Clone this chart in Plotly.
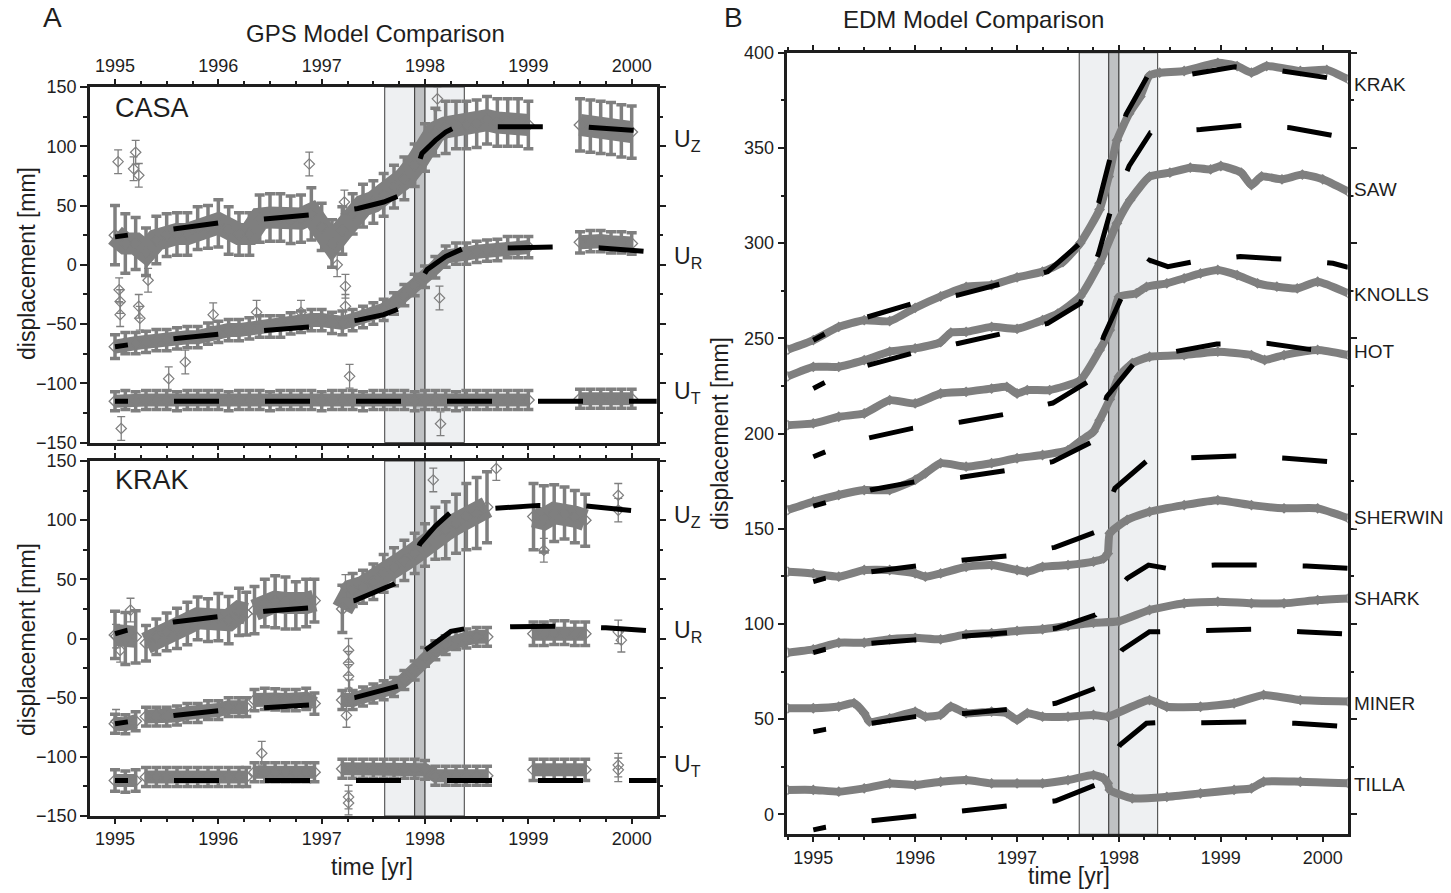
import plotly.graph_objects as go

# ---------------- data ----------------
YEARS = [1995, 1996, 1997, 1998, 1999, 2000]
BAND_EDGES = [1997.61, 1997.90, 1998.00, 1998.38]

# GPS  CASA
CASA_T = [1995.0, 1995.1, 1995.2, 1995.3, 1995.4, 1995.5, 1995.6, 1995.7, 1995.8, 1995.9,
          1996.0, 1996.1, 1996.2, 1996.3, 1996.4, 1996.5, 1996.6, 1996.7, 1996.8, 1996.9,
          1997.0, 1997.1, 1997.2, 1997.3, 1997.4, 1997.5, 1997.6, 1997.7, 1997.8, 1997.9,
          1998.0, 1998.1, 1998.2, 1998.3, 1998.4, 1998.5, 1998.6, 1998.7, 1998.8, 1998.9, 1999.0,
          None, 1999.5, 1999.6, 1999.7, 1999.8, 1999.9, 2000.0]
CASA_UZ = [25, 18, 18, 11, 21, 25, 26, 26, 31, 32,
           35, 29, 26, 26, 39, 40, 40, 38, 39, 43,
           32, 18, 29, 43, 50, 53, 59, 66, 73, 84,
           99, 112, 116, 118, 118, 119, 122, 120, 120, 120, 118,
           None, 118, 117, 116, 115, 113, 112]
CASA_UZ_E = [25, 25, 22, 20, 20, 18, 18, 18, 18, 18,
             20, 20, 18, 18, 20, 20, 20, 20, 20, 22,
             20, 20, 20, 17, 18, 18, 18, 18, 18, 18,
             20, 20, 22, 20, 20, 20, 20, 20, 20, 20, 20,
             None, 22, 22, 22, 22, 22, 22]
CASA_UR = [-69, -66, -66, -65, -63.5, -63.5, -62, -61, -61, -58,
           -56.5, -55, -55, -53.6, -52, -52, -52, -49.4, -48, -46.6,
           -46.6, -49, -49, -46.6, -44, -41, -38, -32.6, -25.6, -17,
           -10, -2, 7, 9.5, 9.5, 11, 12, 12.5, 15, 15, 15,
           None, 19, 20, 20, 19, 19, 18]
CASA_UR_E = [10, 9, 9, 9, 9, 9, 9, 9, 9, 9,
             9, 9, 9, 9, 9, 9, 9, 9, 9, 9,
             9, 9, 10, 9, 9, 9, 9, 9, 9, 9,
             9, 9, 9, 9, 9, 9, 9, 9, 9, 9, 9,
             None, 9, 9, 9, 9, 9, 9]
CASA_UT = [-115, -114, -115, -114, -114, -114, -115, -114, -114, -114,
           -114, -115, -114, -114, -114, -115, -114, -114, -114, -114,
           -115, -114, -114, -114, -115, -114, -114, -114, -114, -115,
           -114, -114, -114, -115, -114, -114, -114, -114, -114, -114, -114,
           None, -113, -113, -113, -113, -113, -113]
CASA_UT_E = [8] * 41 + [None] + [8] * 6

CASA_OUT_T = [1995.03, 1995.2, 1995.18, 1995.23, 1996.88, 1997.22, 1997.15, 1995.04, 1995.05,
              1995.05, 1995.23, 1995.24, 1995.32, 1997.23, 1997.23, 1995.95, 1996.37, 1996.8,
              1995.68, 1995.06, 1995.52, 1997.27, 1998.15, 1998.12, 1998.14]
CASA_OUT_Y = [87, 95, 81, 75.5, 85, 53, 0, -21, -31,
              -42, -35, -45, -13, -18, -35, -42, -40, -40,
              -82, -138, -96, -94, -134, 140, -28]

# GPS  KRAK
KRAK_T = [1995.0, 1995.1, 1995.2, None,
          1995.3, 1995.4, 1995.5, 1995.6, 1995.7, 1995.8, 1995.9, 1996.0, 1996.1, 1996.2, 1996.27, None,
          1996.35, 1996.45, 1996.55, 1996.65, 1996.75, 1996.85, 1996.93, None,
          1997.2, 1997.3, 1997.4, 1997.5, 1997.6, 1997.7, 1997.8, 1997.9,
          1998.0, 1998.1, 1998.2, 1998.3, 1998.4, 1998.5, 1998.6, None,
          1999.05, 1999.15, 1999.25, 1999.35, 1999.45, 1999.55]
KRAK_UZ = [3, 0, 1.4, None,
           -4, 1.4, 5.6, 8.5, 12.7, 17, 15.5, 18, 15.5, 22.5, 21, None,
           24, 30, 31, 30, 28, 30, 32, None,
           25, 41, 43.7, 48, 55, 60.6, 66, 72,
           79, 89, 91.5, 97, 103, 106, 111, None,
           103, 101, 106, 106, 103, 100]
KRAK_UZ_E = [20, 22, 22, None,
             15, 15, 16, 17, 18, 18, 18, 20, 20, 20, 18, None,
             20, 20, 22, 22, 20, 20, 18, None,
             20, 14, 14, 15, 16, 16, 17, 17,
             18, 22, 24, 25, 28, 30, 30, None,
             28, 28, 24, 22, 22, 22]
KRAK_UR = [-72, -72.5, -70, None,
           -66, -66, -66, -65, -63, -63, -60.5, -60.5, -58, -58, -58, None,
           -52, -51, -51.5, -52, -52, -51, -55, None,
           -52, -52, -49, -46.5, -43.7, -41, -35, -27,
           -15.5, -10, -5.6, -1.4, 0, 1.4, 1.4, None,
           4, 4, 5, 5, 4, 4]
KRAK_UR_E = [8, 8, 8, None] + [8] * 11 + [None] + [9] * 7 + [None] + [8] * 15 + [None] + [10] * 6
KRAK_UT = [-120, -121, -120, None,
           -117, -117, -117, -117, -117, -117, -117, -117, -117, -117, -117, None,
           -113, -113, -113, -113, -113, -113, -113, None,
           -110, -110, -110, -110, -110, -110, -110, -110,
           -111, -116, -116, -116, -116, -116, -116, None,
           -111, -111, -111, -111, -111, -111]
KRAK_UT_E = [9, 9, 9, None] + [8] * 11 + [None] + [8] * 7 + [None] + [8] * 15 + [None] + [9] * 6

KRAK_OUT_T = [1995.01, 1995.05, 1995.15, 1997.23, 1997.26, 1997.26, 1997.26, 1997.27, 1995.01,
              1997.24, 1997.26, 1997.26, 1996.42, 1998.08, 1998.69, 1999.87, 1999.87, 1999.15,
              1999.9, 1999.87, 1999.87, 1999.87]
KRAK_OUT_Y = [2, -10, 24, 44, -10, -21, -32, -45, -70,
              -65, -134, -139, -97, 134, 143.7, 121, 108.5, 74.6,
              -1.4, 5.6, -107, -111]

# GPS models
MOD_CASA_UZ_T = [1995.0, 1995.5, 1996.0, 1996.5, 1997.0, 1997.35, 1997.6, 1997.8, 1997.9, 1997.97,
                 1998.1, 1998.2, 1998.3, 1998.5, 1999.0, 1999.5, 2000.0, 2000.25]
MOD_CASA_UZ = [23.6, 29.5, 35.4, 39, 43, 47.5, 53, 60, 75, 94, 105, 112, 116.3, 116.5, 116.8, 116.5, 113.6, 112]
MOD_CASA_UR_T = [1995.0, 1995.5, 1996.0, 1996.5, 1997.0, 1997.35, 1997.6, 1997.8, 1997.9, 1998.02,
                 1998.2, 1998.37, 1998.8, 1999.3, 1999.7, 2000.0, 2000.25]
MOD_CASA_UR = [-69, -63, -58.5, -55, -51.5, -46.6, -42, -35.4, -22, -4, 7, 13.8, 14.3, 15.2, 14.3, 12.5, 10.5]
MOD_CASA_UT_T = [1995.0, 2000.25]
MOD_CASA_UT = [-115, -115]

MOD_KRAK_UZ_T = [1995.0, 1995.12, 1995.57, 1996.0, 1996.45, 1996.9, 1997.32, 1997.7, 1997.8, 1997.9,
                 1997.95, 1998.1, 1998.24, 1998.68, 1999.1, 1999.55, 2000.0, 2000.25]
MOD_KRAK_UZ = [4, 7, 14, 18, 23, 26, 32, 46, 52, 68, 80, 95, 106, 110, 112.5, 112, 108.5, 106]
MOD_KRAK_UR_T = [1995.0, 1995.57, 1996.0, 1996.45, 1996.9, 1997.32, 1997.75, 1997.9, 1998.0, 1998.25,
                 1998.4, 1998.85, 1999.3, 1999.75, 2000.25]
MOD_KRAK_UR = [-72, -65, -61, -58, -56, -50, -40, -25, -10, 6, 8.5, 10, 10.5, 9, 6]
MOD_KRAK_UT_T = [1995.0, 2000.25]
MOD_KRAK_UT = [-120, -120]

# EDM data
EDM_NAMES = ["KRAK", "SAW", "KNOLLS", "HOT", "SHERWIN", "SHARK", "MINER", "TILLA"]
EDM_LABEL_Y = [383.4, 328.3, 273.1, 243.3, 156.0, 113.4, 58.3, 15.4]

KRAK_EDM_T = [1994.75, 1995.0, 1995.25, 1995.5, 1995.75, 1996.0, 1996.25, 1996.5, 1996.75, 1997.0,
              1997.25, 1997.45, 1997.62, 1997.81, 1997.9, 1997.98, 1998.1, 1998.21, 1998.3, 1998.4,
              1998.64, 1998.97, 1999.16, 1999.3, 1999.45, 1999.78, 2000.04, 2000.25]
KRAK_EDM = [244, 249, 256, 259.5, 259, 266, 272, 277, 278, 282,
            285, 290, 300, 317.6, 335, 354, 368, 377, 388, 389.5,
            390.4, 394.7, 393, 389.5, 393, 390.4, 391, 386]
SAW_EDM_T = [1994.75, 1995.0, 1995.25, 1995.5, 1995.75, 1996.0, 1996.25, 1996.35, 1996.5, 1996.75,
             1997.0, 1997.25, 1997.4, 1997.62, 1997.81, 1997.98, 1998.11, 1998.3, 1998.5, 1998.7,
             1998.9, 1999.0, 1999.2, 1999.3, 1999.4, 1999.6, 1999.8, 2000.0, 2000.25]
SAW_EDM = [230, 235, 235, 238.5, 243, 244.7, 248, 253, 253.4, 256,
           255, 259.5, 263, 272, 289.4, 310.4, 322.6, 334.9, 337, 339.6,
           338.7, 340.5, 337, 330.5, 335, 333.5, 336, 333.5, 327]
KNOLLS_EDM_T = [1994.75, 1995.0, 1995.25, 1995.5, 1995.75, 1996.0, 1996.25, 1996.5, 1996.75, 1996.9,
                1997.0, 1997.1, 1997.32, 1997.62, 1997.81, 1997.91, 1998.0, 1998.17, 1998.27, 1998.47,
                1998.64, 1998.8, 1998.97, 1999.16, 1999.36, 1999.55, 1999.75, 1999.95, 2000.25]
KNOLLS_EDM = [204.4, 205.3, 208.8, 210.5, 217.5, 215.8, 221, 221.9, 223.6, 224.5,
              221, 222.8, 222.8, 228, 243.8, 254.3, 271.8, 273.6, 277, 278.9,
              281.5, 284.1, 285.9, 283.2, 278.9, 277.1, 276.2, 279.7, 273.6]
HOT_EDM_T = [1994.75, 1995.0, 1995.25, 1995.5, 1995.75, 1996.0, 1996.1, 1996.25, 1996.5, 1996.75,
             1997.0, 1997.25, 1997.5, 1997.62, 1997.75, 1997.81, 1997.91, 1998.0, 1998.13, 1998.3,
             1998.64, 1998.97, 1999.3, 1999.43, 1999.62, 1999.95, 2000.25]
HOT_EDM = [159.8, 164.2, 167.7, 170.3, 170.3, 175.6, 179.1, 184.4, 182.6, 184.4,
           187, 188.7, 191.3, 196, 201, 207, 218, 230, 236.9, 240.3,
           241.2, 243, 241.2, 238.6, 241.2, 243.9, 241.2]
SHERWIN_EDM_T = [1994.75, 1995.0, 1995.25, 1995.5, 1995.75, 1996.0, 1996.1, 1996.25, 1996.5, 1996.75,
                 1997.0, 1997.1, 1997.25, 1997.5, 1997.75, 1997.85, 1997.89, 1997.91, 1998.08, 1998.3,
                 1998.64, 1998.97, 1999.3, 1999.62, 1999.95, 2000.25]
SHERWIN_EDM = [127.4, 126.5, 124.8, 128.3, 128.3, 126.5, 124.8, 126.5, 130, 130.9,
               128.3, 127.4, 130, 130.9, 132.7, 134.4, 137, 147.6, 154.6, 158.9,
               162.4, 165, 162.4, 160.7, 160.7, 155.5]
SHARK_EDM_T = [1994.75, 1995.0, 1995.25, 1995.5, 1995.75, 1996.0, 1996.25, 1996.5, 1996.75, 1997.0,
               1997.25, 1997.5, 1997.75, 1998.0, 1998.3, 1998.64, 1998.97, 1999.3, 1999.62, 1999.95, 2000.25]
SHARK_EDM = [84.9, 86.6, 90.1, 90.1, 91.9, 92.7, 91.9, 94.5, 95.1, 96.3,
             97.2, 99, 100.6, 101.4, 107.3, 110.8, 111.7, 110.8, 110.8, 112.5, 113.4]
MINER_EDM_T = [1994.75, 1995.0, 1995.25, 1995.4, 1995.5, 1995.55, 1995.75, 1996.0, 1996.1, 1996.25,
               1996.35, 1996.5, 1996.75, 1996.9, 1997.0, 1997.1, 1997.25, 1997.5, 1997.75, 1997.89,
               1998.3, 1998.47, 1998.8, 1999.13, 1999.42, 1999.78, 2000.25]
MINER_EDM = [55.7, 55.7, 56.6, 58.4, 53.1, 48.7, 50.4, 53.9, 51.3, 52.2,
             56.6, 53.1, 53.9, 53.1, 49.6, 53.1, 51.3, 51.3, 52.2, 51.3,
             60, 56.5, 56.5, 58.3, 62.7, 60, 59.2]
TILLA_EDM_T = [1994.75, 1995.0, 1995.25, 1995.5, 1995.75, 1996.0, 1996.25, 1996.5, 1996.75, 1997.0,
               1997.25, 1997.5, 1997.75, 1997.85, 1997.89, 1997.91, 1998.13, 1998.47, 1998.8, 1999.13,
               1999.3, 1999.42, 1999.78, 2000.25]
TILLA_EDM = [12.8, 12.8, 11.9, 13.6, 16.2, 15.4, 17.1, 18, 16.2, 16.2,
             16.2, 18, 20.6, 18.9, 16.3, 12.8, 8.4, 9.2, 11, 12.8,
             13.6, 17.1, 17.1, 16.3]

# EDM models
MOD_KRAK_T = [1995.0, 1995.12, 1995.52, 1995.96, 1996.42, 1996.85, 1997.3, 1997.62, 1997.8, 1997.91,
              1998.07, 1998.28, 1998.7, 1999.14, 1999.6, 2000.04, 2000.25]
MOD_KRAK = [249, 252.5, 261, 268, 272.7, 279, 285, 300, 321, 344, 367.6, 387.7, 388.6, 392.6, 390.4, 386.9, 385]
MOD_SAW_T = [1995.0, 1995.12, 1995.52, 1995.96, 1996.42, 1996.85, 1997.3, 1997.62, 1997.8, 1997.92,
             1998.1, 1998.31, 1998.36, 1998.8, 1999.22, 1999.68, 2000.12, 2000.25]
MOD_SAW = [223.6, 227, 235.6, 242, 247.3, 252.5, 257.8, 268.3, 294.6, 317.3, 340.5, 358, 358.3, 359.7, 361.8, 360.6, 356.2, 355]
MOD_KNOLLS_T = [1995.0, 1995.12, 1995.53, 1995.97, 1996.45, 1996.87, 1997.35, 1997.72, 1997.85, 1998.03,
                1998.3, 1998.48, 1998.73, 1999.19, 1999.63, 2000.1, 2000.25]
MOD_KNOLLS = [187.8, 190.4, 197.5, 202.7, 206, 210, 216, 228, 251, 272, 291, 287.6, 290.2, 292.9, 291.5, 289.4, 287.3]
MOD_HOT_T = [1995.0, 1995.12, 1995.56, 1996.0, 1996.45, 1996.88, 1997.35, 1997.74, 1997.88, 1998.16,
             1998.55, 1998.96, 1999.45, 1999.87, 2000.25]
MOD_HOT = [161.9, 163.7, 170.3, 174.7, 177, 180.5, 185.2, 195.7, 219.3, 237.7, 243, 247, 247.4, 244.2, 242]
MOD_SHERWIN_T = [1995.0, 1995.12, 1995.57, 1996.0, 1996.48, 1996.9, 1997.37, 1997.78, 1997.96, 1998.29,
                 1998.75, 1999.19, 1999.64, 2000.09, 2000.25]
MOD_SHERWIN = [122.2, 124, 127.4, 130.4, 133.6, 135.7, 140.2, 148.4, 171.2, 186.4, 187, 188.2, 187, 185.2, 184.5]
MOD_SHARK_T = [1995.0, 1995.12, 1995.57, 1996.01, 1996.48, 1996.92, 1997.38, 1997.77, 1998.08, 1998.29,
               1998.47, 1998.94, 1999.38, 1999.84, 2000.25]
MOD_SHARK = [84.9, 86.7, 89.8, 91.5, 93.3, 95.4, 97.7, 104.7, 123.9, 130.9, 129.2, 130.9, 130.9, 130.4, 129.2]
MOD_MINER_T = [1995.0, 1995.12, 1995.57, 1996.0, 1996.48, 1996.9, 1997.38, 1997.77, 1998.03, 1998.3,
               1998.4, 1998.86, 1999.3, 1999.78, 2000.25]
MOD_MINER = [43.4, 44.6, 47.8, 51.3, 53, 55.1, 58.3, 66.2, 86.3, 95.9, 95.9, 96.8, 97.2, 95.9, 94.6]
MOD_TILLA_T = [1995.0, 1995.12, 1995.57, 1996.0, 1996.48, 1996.9, 1997.38, 1997.77, 1998.01, 1998.27,
               1998.37, 1998.83, 1999.27, 1999.73, 2000.17, 2000.25]
MOD_TILLA = [-8.2, -6.8, -3.4, -0.9, 1.4, 3.7, 7.1, 15.4, 36.4, 47.8, 48.1, 48.1, 48.5, 47.8, 46.4, 46]

# ---------------- styling ----------------
GRAY = "#7f7f7f"
INK = "#1e1e1e"
FONT = "Liberation Sans, Arial, Helvetica, sans-serif"
DASH = "13px,46px," + ",".join(["45px,46px"] * 30)
W, H = 1451, 893


def px(xp):
    return xp / W


def py(yp):
    return 1 - yp / H


fig = go.Figure()


def gps_data(t, v, e, xa, ya, lw):
    fig.add_trace(go.Scatter(
        x=t, y=v, xaxis=xa, yaxis=ya, mode="lines+markers", connectgaps=False,
        line=dict(color=GRAY, width=lw),
        marker=dict(symbol="diamond-open", size=9, color=GRAY, line=dict(width=1.3, color=GRAY)),
        error_y=dict(type="data", array=e, color=GRAY, thickness=3.5, width=5),
        hoverinfo="skip", showlegend=False))


def gps_out(t, v, xa, ya):
    fig.add_trace(go.Scatter(
        x=t, y=v, xaxis=xa, yaxis=ya, mode="markers",
        marker=dict(symbol="diamond-open", size=8, color=GRAY, line=dict(width=1.2, color=GRAY)),
        error_y=dict(type="constant", value=10, color=GRAY, thickness=1.3, width=4),
        hoverinfo="skip", showlegend=False))


def model(t, v, xa, ya):
    fig.add_trace(go.Scatter(
        x=t, y=v, xaxis=xa, yaxis=ya, mode="lines",
        line=dict(color="black", width=5, dash=DASH),
        hoverinfo="skip", showlegend=False))


def edm_data(t, v):
    fig.add_trace(go.Scatter(
        x=t, y=v, xaxis="x3", yaxis="y3", mode="lines+markers",
        line=dict(color=GRAY, width=8, shape="spline", smoothing=0.5),
        marker=dict(symbol="diamond-open", size=7, color=GRAY, line=dict(width=1.2, color=GRAY)),
        hoverinfo="skip", showlegend=False))


# panel A top (CASA)
gps_data(CASA_T, CASA_UZ, CASA_UZ_E, "x", "y", 22)
gps_data(CASA_T, CASA_UR, CASA_UR_E, "x", "y", 14)
gps_data(CASA_T, CASA_UT, CASA_UT_E, "x", "y", 13)
gps_out(CASA_OUT_T, CASA_OUT_Y, "x", "y")
model(MOD_CASA_UZ_T, MOD_CASA_UZ, "x", "y")
model(MOD_CASA_UR_T, MOD_CASA_UR, "x", "y")
model(MOD_CASA_UT_T, MOD_CASA_UT, "x", "y")

# panel A bottom (KRAK)
gps_data(KRAK_T, KRAK_UZ, KRAK_UZ_E, "x2", "y2", 22)
gps_data(KRAK_T, KRAK_UR, KRAK_UR_E, "x2", "y2", 14)
gps_data(KRAK_T, KRAK_UT, KRAK_UT_E, "x2", "y2", 13)
gps_out(KRAK_OUT_T, KRAK_OUT_Y, "x2", "y2")
model(MOD_KRAK_UZ_T, MOD_KRAK_UZ, "x2", "y2")
model(MOD_KRAK_UR_T, MOD_KRAK_UR, "x2", "y2")
model(MOD_KRAK_UT_T, MOD_KRAK_UT, "x2", "y2")

# panel B (EDM)
for t, v in [(KRAK_EDM_T, KRAK_EDM), (SAW_EDM_T, SAW_EDM), (KNOLLS_EDM_T, KNOLLS_EDM),
             (HOT_EDM_T, HOT_EDM), (SHERWIN_EDM_T, SHERWIN_EDM), (SHARK_EDM_T, SHARK_EDM),
             (MINER_EDM_T, MINER_EDM), (TILLA_EDM_T, TILLA_EDM)]:
    edm_data(t, v)
for t, v in [(MOD_KRAK_T, MOD_KRAK), (MOD_SAW_T, MOD_SAW), (MOD_KNOLLS_T, MOD_KNOLLS),
             (MOD_HOT_T, MOD_HOT), (MOD_SHERWIN_T, MOD_SHERWIN), (MOD_SHARK_T, MOD_SHARK),
             (MOD_MINER_T, MOD_MINER), (MOD_TILLA_T, MOD_TILLA)]:
    model(t, v, "x3", "y3")


# ---------------- axes ----------------
def xaxis(domain, rng, anchor, side, labels):
    return dict(domain=domain, range=rng, anchor=anchor, side=side, showticklabels=labels,
                tickmode="array", tickvals=YEARS, ticktext=[str(y) for y in YEARS],
                ticks="outside", ticklen=5, tickwidth=2, tickcolor=INK, automargin=False,
                minor=dict(tickmode="linear", tick0=1995, dtick=0.25, ticks="outside", ticklen=3,
                           tickwidth=1.5, tickcolor=INK, showgrid=False),
                showline=True, linewidth=2.5, linecolor=INK, mirror="ticks",
                showgrid=False, zeroline=False,
                tickfont=dict(family=FONT, size=18, color=INK))


def yaxis(domain, rng, anchor, d, m, t0):
    return dict(domain=domain, range=rng, anchor=anchor, automargin=False,
                tickmode="linear", tick0=t0, dtick=d, ticks="outside", ticklen=7, tickwidth=2,
                tickcolor=INK,
                minor=dict(tickmode="linear", tick0=t0, dtick=m, ticks="outside", ticklen=4,
                           tickwidth=1.5, tickcolor=INK, showgrid=False),
                showline=True, linewidth=2.5, linecolor=INK, mirror="ticks",
                showgrid=False, zeroline=False,
                tickfont=dict(family=FONT, size=18, color=INK))


XA = [px(90), px(656.7)]
XB = [px(787.3), px(1347.7)]
fig.update_layout(
    xaxis=xaxis(XA, [1994.758, 2000.242], "y", "top", True),
    yaxis=yaxis([py(442.7), py(87)], [-150, 150], "x", 50, 25, 0),
    xaxis2=xaxis(XA, [1994.758, 2000.242], "y2", "bottom", True),
    yaxis2=yaxis([py(816), py(461)], [-150, 150], "x2", 50, 25, 0),
    xaxis3=xaxis(XB, [1994.745, 2000.245], "y3", "bottom", True),
    yaxis3=yaxis([py(834.3), py(52.7)], [-10.5, 400], "x3", 50, 25, 0),
)

# bands
shapes = []
for xr, yr in [("x", "y domain"), ("x2", "y2 domain"), ("x3", "y3 domain")]:
    for i, fill in enumerate(["#eef0f2", "#bfc1c3", "#eef0f2"]):
        shapes.append(dict(type="rect", xref=xr, yref=yr, x0=BAND_EDGES[i], x1=BAND_EDGES[i + 1],
                           y0=0, y1=1, fillcolor=fill, line=dict(color="#3c3c3c", width=1),
                           layer="below"))

ann = []


def text(x, y, s, size, xanchor="center", yanchor="middle", angle=0, xref="paper", yref="paper", bg=None):
    d = dict(x=x, y=y, xref=xref, yref=yref, text=s, showarrow=False, xanchor=xanchor,
             yanchor=yanchor, textangle=angle, font=dict(family=FONT, size=size, color=INK))
    if bg:
        d["bgcolor"] = bg
        d["borderpad"] = 0
    ann.append(d)


text(px(52), py(18), "A", 28)
text(px(375), py(33), "GPS Model Comparison", 24)
text(px(733), py(18), "B", 28)
text(px(973), py(19), "EDM Model Comparison", 24)
text(px(113), py(108), "CASA", 27, xanchor="left")
text(px(113), py(480), "KRAK", 27, xanchor="left")
text(px(27), py(264), "displacement [mm]", 23, angle=-90)
text(px(27), py(640), "displacement [mm]", 23, angle=-90)
text(px(720), py(434), "displacement [mm]", 23, angle=-90)
text(px(372), py(867), "time [yr]", 23)
text(px(1069), py(876), "time [yr]", 23)

for ya, ys in [("y", [105.3, 6.6, -108]), ("y2", [102.9, 5.7, -107])]:
    for lab, yv in zip(["U<sub>Z</sub>", "U<sub>R</sub>", "U<sub>T</sub>"], ys):
        text(px(672), yv, lab, 23, xanchor="left", yref=ya)

for name, yv in zip(EDM_NAMES, EDM_LABEL_Y):
    text(px(1353), yv, name, 19, xanchor="left", yref="y3", bg="white")

fig.update_layout(
    width=W, height=H, autosize=False,
    margin=dict(l=0, r=0, t=0, b=0, pad=0, autoexpand=False),
    paper_bgcolor="white", plot_bgcolor="white",
    shapes=shapes, annotations=ann, showlegend=False,
    font=dict(family=FONT, color=INK),
)

PIN = ("document.documentElement.style.margin='0';document.documentElement.style.overflow='hidden';"
       "document.body.style.margin='0';document.body.style.overflow='hidden';"
       "var g=document.getElementsByClassName('plotly-graph-div')[0];"
       "g.style.position='fixed';g.style.left='0px';g.style.top='0px';")

fig.write_html("out.html", config={"displayModeBar": False}, post_script=PIN)
